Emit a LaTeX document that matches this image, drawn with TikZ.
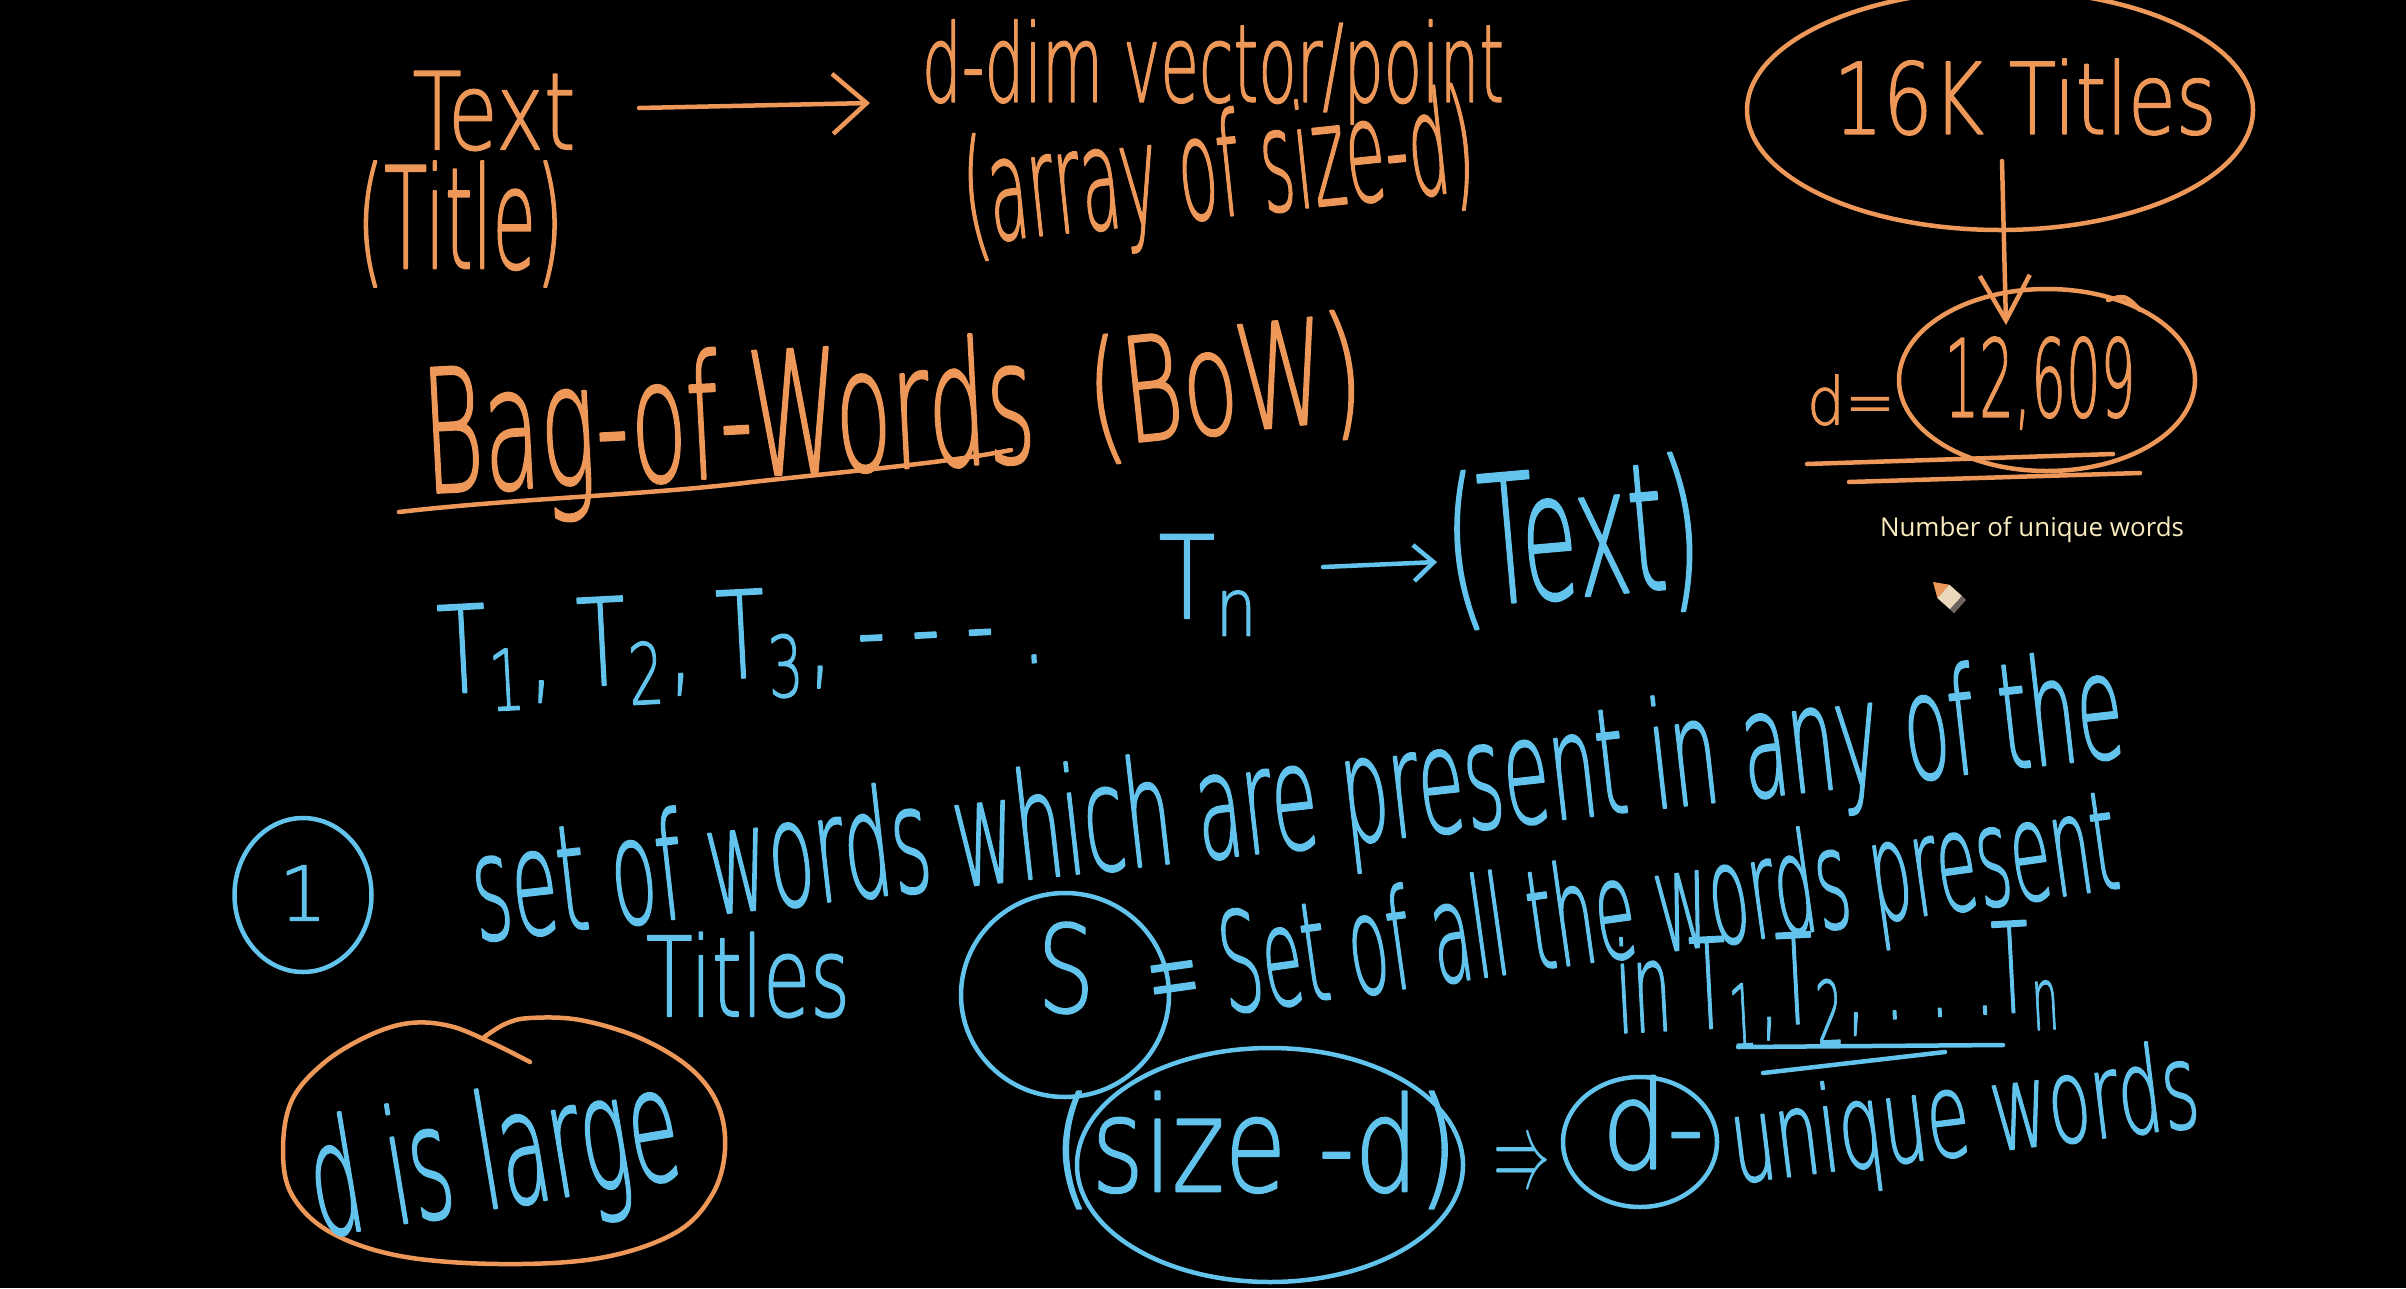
\documentclass[tikz,border=0pt]{standalone}
\usepackage{fontspec}
\usepackage{graphicx}
\newfontfamily\notefont{Open Sans}
\IfFontExistsTF{DejaVuSans-ExtraLight.ttf}
  {\newfontfamily\handfont[FakeBold=1.5]{DejaVuSans-ExtraLight.ttf}}
  {\newfontfamily\handfont{Latin Modern Sans}}
\usetikzlibrary{arrows.meta,shapes.geometric}
\definecolor{chalkorange}{RGB}{237,152,88}
\definecolor{chalkblue}{RGB}{98,196,236}
\definecolor{notecol}{RGB}{250,236,190}
\definecolor{pencilbody}{RGB}{235,215,185}
\definecolor{pencilend}{RGB}{110,100,95}
\newcommand{\fittxt}[3]{\resizebox{#1pt}{#2pt}{#3}}
\begin{document}
\begin{tikzpicture}[x=1pt,y=-1pt,line cap=round,line join=round,
  hand/.style={inner sep=0pt,outer sep=0pt,font=\handfont},
  org/.style={hand,text=chalkorange},
  blu/.style={hand,text=chalkblue},
  ostroke/.style={draw=chalkorange,line width=4.5pt},
  bstroke/.style={draw=chalkblue,line width=4.5pt},
  oloop/.style={ellipse,draw=chalkorange,line width=4.5pt,inner sep=0pt},
  bloop/.style={ellipse,draw=chalkblue,line width=4.5pt,inner sep=0pt}]
\fill[black] (0,0) rectangle (2406,1288);
\useasboundingbox (0,0) rectangle (2406,1288);

% ---------- top row (orange) ----------
\node[org] (text) at (494,111) {\fittxt{163}{78}{Text}};
\node[org] (title) at (460,224) {\fittxt{207}{107}{(Title)}};
\node[org] (ddim) at (1213,72) {\fittxt{582}{82}{d-dim vector/point}};
\node[org,rotate=6] (arr) at (1219,176) {\fittxt{513}{108}{(array of size-d)}};
\coordinate (a1s) at (639,108);
\coordinate (a1e) at (870,103);
\draw[ostroke,-{Straight Barb[length=34pt,width=60pt]}] (a1s) -- (a1e);

% 16K titles
\node[oloop,minimum width=506pt,minimum height=240pt] (e16k) at (2000,110) {};
\node[org] (t16) at (2025,97) {\fittxt{383}{75}{16K Titles}};
\coordinate (a2s) at (2002,161);
\coordinate (a2e) at (2006,325);
\draw[ostroke,-{Straight Barb[length=45pt,width=50pt]}] (a2s) -- (a2e);

% d = 12,609
\node[org] (deq) at (1851,400) {\fittxt{88}{50}{d=}};
\node[oloop,minimum width=296pt,minimum height=182pt] (e12) at (2047,380) {};
\node[org] (num) at (2040,383) {\fittxt{191}{80}{12,609}};
\draw[ostroke] (2108,300) .. controls (2125,295) .. (2140,310);
\draw[ostroke] (1807,464) -- (2113,454);
\draw[ostroke] (1849,482) -- (2140,473);
\node[text=notecol,font=\notefont,inner sep=0pt] (note) at (2032,530) {\resizebox{304pt}{!}{Number of unique words}};

% pencil cursor
\fill[chalkorange] (1933,582) -- (1949.4,584.7) -- (1937.4,598.1) -- cycle;
\fill[pencilbody] (1949.4,584.7) -- (1962,596) -- (1950,609.4) -- (1937.4,598.1) -- cycle;
\fill[pencilend] (1962,596) -- (1966,600) -- (1954,613.4) -- (1950,609.4) -- cycle;

% Bag-of-Words
\node[org,rotate=3] (bow) at (729,430) {\fittxt{612}{130}{Bag-of-Words}};
\node[org,rotate=6] (bown) at (1225,387) {\fittxt{275}{110}{(BoW)}};
\draw[ostroke] (399,512) .. controls (520,498) and (650,495) .. (752,482)
  .. controls (880,468) and (950,462) .. (1011,450);

% ---------- blue ----------
\node[blu,rotate=3] (tlist) at (742,645) {\fittxt{607}{88}{T\textsubscript{1}, T\textsubscript{2}, T\textsubscript{3}, - - - .}};
\node[blu] (tn) at (1210,585) {\fittxt{103}{84}{T\textsubscript{n}}};
\coordinate (a3s) at (1323,567);
\coordinate (a3e) at (1437,562);
\draw[bstroke,-{Straight Barb[length=20pt,width=36pt]}] (a3s) -- (a3e);
\node[blu,rotate=5] (textb) at (1573,541) {\fittxt{255}{135}{(Text)}};

\node[bloop,minimum width=137pt,minimum height=154pt] (c1) at (303,895) {};
\node[blu] (one) at (303,893) {\resizebox{!}{55pt}{1}};
\node[blu,rotate=6.4] (line1) at (1298,808) {\fittxt{1660}{112}{set of words which are present in any of the}};
\node[blu] (titles) at (748,975) {\fittxt{204}{84}{Titles}};
\node[bloop,minimum width=208pt,minimum height=204pt] (cs) at (1065,995) {};
\node[blu] (s) at (1066,968) {\fittxt{57}{90}{S}};
\node[blu,rotate=8] (line2) at (1632,918) {\fittxt{980}{105}{= Set of all the words present}};
\node[blu,rotate=3] (line3) at (1838,985) {\fittxt{445}{95}{in T\textsubscript{1},T\textsubscript{2}, . . .T\textsubscript{n}}};
\draw[bstroke] (1738,1047) -- (2003,1045);
\draw[bstroke] (1763,1073) -- (1945,1052);

% d is large
\draw[ostroke] plot[smooth,tension=0.6] coordinates {(483,1038) (505,1024) (530,1018) (580,1020) (640,1038) (690,1068) (718,1105) (725,1150) (712,1195) (675,1233) (600,1258) (500,1264) (400,1256) (330,1232) (292,1195) (283,1150) (292,1100) (325,1062) (370,1035) (410,1023) (450,1026) (490,1042) (530,1062)};
\node[blu,rotate=9.4] (large) at (495,1164) {\fittxt{372}{120}{d is large}};

% size-d => d- unique words
\node[bloop,minimum width=386pt,minimum height=234pt] (csize) at (1270,1165) {};
\node[blu] (size) at (1255,1150) {\fittxt{405}{100}{(size -d)}};
\node[blu] (imp) at (1522,1167) {\fittxt{57}{40}{$\Rightarrow$}};
\node[bloop,minimum width=154pt,minimum height=130pt] (cd) at (1640,1142) {};
\node[blu] (dm) at (1653,1123) {\fittxt{102}{93}{d-}};
\node[blu,rotate=7] (uw) at (1965,1122) {\fittxt{470}{90}{unique words}};
\end{tikzpicture}
\end{document}
